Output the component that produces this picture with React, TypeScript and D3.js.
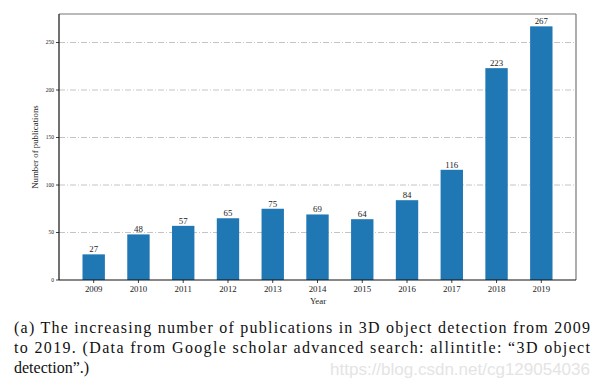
import React from 'react'
import * as d3 from 'd3'

const years = ['2009', '2010', '2011', '2012', '2013', '2014', '2015', '2016', '2017', '2018', '2019']
const counts = [27, 48, 57, 65, 75, 69, 64, 84, 116, 223, 267]
const yTicks = [0, 50, 100, 150, 200, 250]
const captionLines = [
  '(a) The increasing number of publications in 3D object detection from 2009',
  'to 2019. (Data from Google scholar advanced search: allintitle: \u201c3D object',
  'detection\u201d.)',
]

const W = 603
const H = 385
const left = 59
const right = 576
const top = 14
const bottom = 280
const serif = "'Liberation Serif', Tinos, 'Nimbus Roman', FreeSerif, 'DejaVu Serif', serif"

export default function App() {
  const x = d3.scaleLinear().domain([-0.775, years.length - 1 + 0.775]).range([left, right])
  const y = d3.scaleLinear().domain([0, 280]).range([bottom, top])
  const barW = x(0.5) - x(0)

  return (
    <svg width={W} height={H} style={{ position: 'absolute', left: 0, top: 0, background: '#fff' }}>
      <g style={{ fontFamily: serif }}>
        {/* grid */}
        {yTicks.filter(t => t > 0).map(t => (
          <line key={'g' + t} x1={left} x2={right} y1={y(t)} y2={y(t)}
            stroke="#c4c4c4" strokeWidth={1} strokeDasharray="6,2,1,2" />
        ))}
        {/* bars */}
        {counts.map((c, i) => (
          <rect key={years[i]} x={x(i) - barW / 2} y={y(c)} width={barW} height={y(0) - y(c)} fill="#1f77b4" />
        ))}
        {counts.map((c, i) => (
          <text key={'v' + i} x={x(i)} y={y(c) - 2} textAnchor="middle" fontSize={8.8} fill="#222">{c}</text>
        ))}
        {/* spines */}
        <line x1={left} x2={right} y1={top} y2={top} stroke="#777" strokeWidth={1.2} />
        <line x1={right} x2={right} y1={top} y2={bottom} stroke="#777" strokeWidth={1.2} />
        <line x1={left} x2={left} y1={top} y2={bottom} stroke="#111" strokeWidth={1.2} />
        <line x1={left} x2={right} y1={bottom} y2={bottom} stroke="#111" strokeWidth={1.2} />
        {/* y ticks */}
        {yTicks.map(t => (
          <g key={'y' + t}>
            <line x1={left - 3} x2={left} y1={y(t)} y2={y(t)} stroke="#111" strokeWidth={0.8} />
            <text x={left - 5} y={y(t)} dy="0.33em" textAnchor="end" fontSize={5.5} fill="#222">{t}</text>
          </g>
        ))}
        {/* x ticks */}
        {years.map((yr, i) => (
          <g key={'x' + yr}>
            <line x1={x(i)} x2={x(i)} y1={bottom} y2={bottom + 3} stroke="#111" strokeWidth={0.8} />
            <text x={x(i)} y={bottom + 12} textAnchor="middle" fontSize={8.8} fill="#222">{yr}</text>
          </g>
        ))}
        <text x={318} y={bottom + 24} textAnchor="middle" fontSize={8.8} fill="#222">Year</text>
        <text transform={`translate(38,${(top + bottom) / 2}) rotate(-90)`} textAnchor="middle" fontSize={8.8} fill="#222">
          Number of publications
        </text>
        {/* caption */}
        <text x={590} y={375} textAnchor="end" style={{ fontFamily: "'Liberation Sans', Arial, sans-serif" }}
          fontSize={17} fill="#e4e4e4">https://blog.csdn.net/cg129054036</text>
        {captionLines.map((l, i) => (
          <text key={'c' + i} x={14} y={333 + i * 20} fontSize={16} fill="#111"
            textLength={i < 2 ? 576 : undefined} lengthAdjust={i < 2 ? 'spacing' : undefined}>{l}</text>
        ))}
      </g>
    </svg>
  )
}
